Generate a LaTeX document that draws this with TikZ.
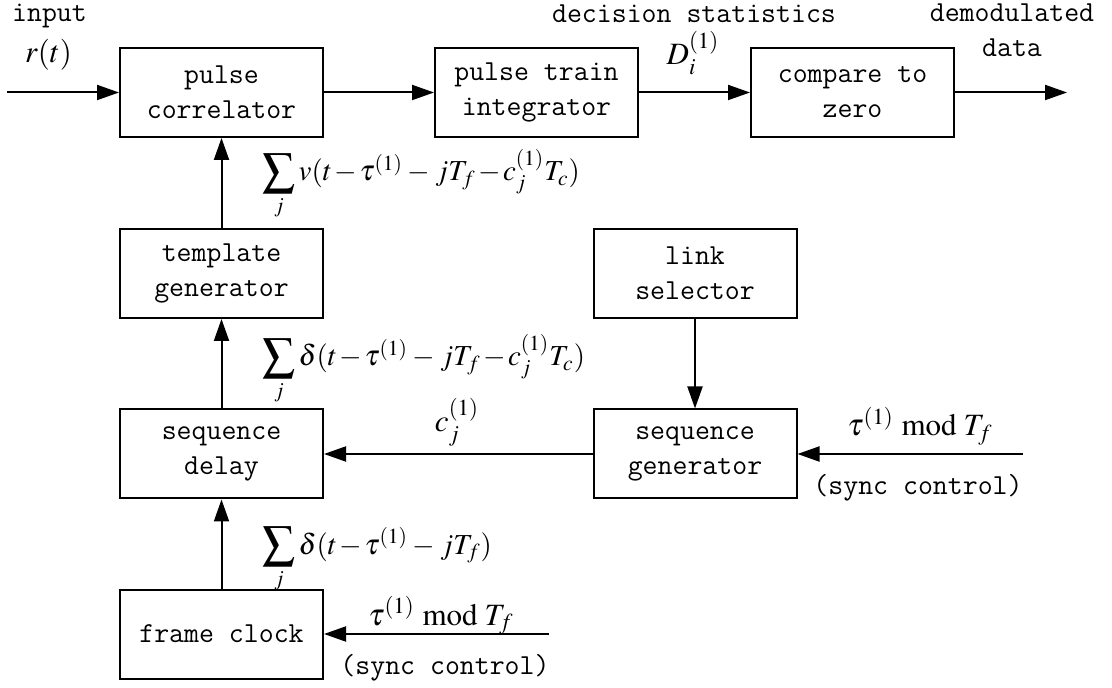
\documentclass[tikz,border=0pt]{standalone}
\usepackage{mathptmx}
\usepackage{graphicx}
\usepackage{fontspec}
\setmainfont{Liberation Serif}
\usetikzlibrary{arrows.meta}
\newcommand{\bigsum}{\mathop{\vcenter{\hbox{\scalebox{1.6}{$\sum$}}}}\limits}
\newcommand{\tightmath}{\medmuskip=1.5mu plus 1mu minus 1mu\relax}
\begin{document}
\begin{tikzpicture}[x=0.5pt,y=-0.5pt,
  blk/.style={draw,line width=1pt,rectangle,inner sep=0pt,align=center,minimum width=101.5pt,minimum height=44.5pt,font=\fontsize{14.5}{17.5}\selectfont\ttfamily},
  arr/.style={line width=1pt,-{Triangle[length=11pt,width=7.5pt]}},
  lbl/.style={inner sep=0pt,font=\fontsize{14.5}{17.5}\selectfont\ttfamily},
  mth/.style={inner sep=0pt,font=\fontsize{15.5}{19}\selectfont\tightmath},
  smth/.style={inner sep=0pt,font=\fontsize{14.5}{18}\selectfont\tightmath},
]
\useasboundingbox (0,0) rectangle (1112,688);
% blocks
\node[blk] (pc)  at (221.5,92.5) {pulse\\correlator};
\node[blk] (pti) at (536.5,92.5) {pulse train\\integrator};
\node[blk] (cz)  at (852.5,92.5) {compare to\\zero};
\node[blk] (tg)  at (221.5,273.5) {template\\generator};
\node[blk] (sd)  at (221.5,454) {sequence\\delay};
\node[blk] (fc)  at (221.5,634) {frame clock};
\node[blk] (ls)  at (695,273.5) {link\\selector};
\node[blk] (sg)  at (695,454) {sequence\\generator};
% free ends
\coordinate (in)  at (7,92.5);
\coordinate (out) at (1067,92.5);
\coordinate (rin) at (1023,454);
\coordinate (fin) at (549,634);
% connectors
\draw[arr] (in) -- (pc.west);
\draw[arr] (pc.east) -- (pti.west);
\draw[arr] (pti.east) -- (cz.west);
\draw[arr] (cz.east) -- (out);
\draw[arr] (tg.north) -- (pc.south);
\draw[arr] (sd.north) -- (tg.south);
\draw[arr] (fc.north) -- (sd.south);
\draw[arr] (ls.south) -- (sg.north);
\draw[arr] (sg.west) -- (sd.east);
\draw[arr] (rin) -- (sg.east);
\draw[arr] (fin) -- (fc.east);
% text labels
\node[lbl,anchor=base] (tin) at (49.5,22) {input};
\node[mth,anchor=base] (trt) at (48.5,63) {$r(t)$};
\node[lbl,anchor=base] (tds) at (694,23) {decision statistics};
\node[mth,anchor=base] (tdi) at (693,65) {$D_i^{(1)}$};
\node[lbl,anchor=base] (tdm) at (1012,22) {demodulated};
\node[lbl,anchor=base] (tdt) at (1012,57) {data};
\node[smth,anchor=base west] (s1) at (262,181) {$\bigsum_j v(t-\tau^{(1)}\:-\:jT_f-c_j^{(1)}T_c)$};
\node[smth,anchor=base west] (s2) at (262,366) {$\bigsum_j \delta(t-\tau^{(1)}\:-\:jT_f-c_j^{(1)}T_c)$};
\node[mth,anchor=base] (tcj) at (457,432) {$c_j^{(1)}$};
\node[mth,anchor=base west] (tm1) at (847,436) {$\tau^{(1)}\ \mathrm{mod}\;T_f$};
\node[lbl,anchor=base] (sc1) at (918,495) {(sync control)};
\node[smth,anchor=base west] (s3) at (262,554) {$\bigsum_j \delta(t-\tau^{(1)}\:-\:jT_f)$};
\node[mth,anchor=base west] (tm2) at (368,625) {$\tau^{(1)}\ \mathrm{mod}\;T_f$};
\node[lbl,anchor=base] (sc2) at (445,674) {(sync control)};
\end{tikzpicture}
\end{document}
